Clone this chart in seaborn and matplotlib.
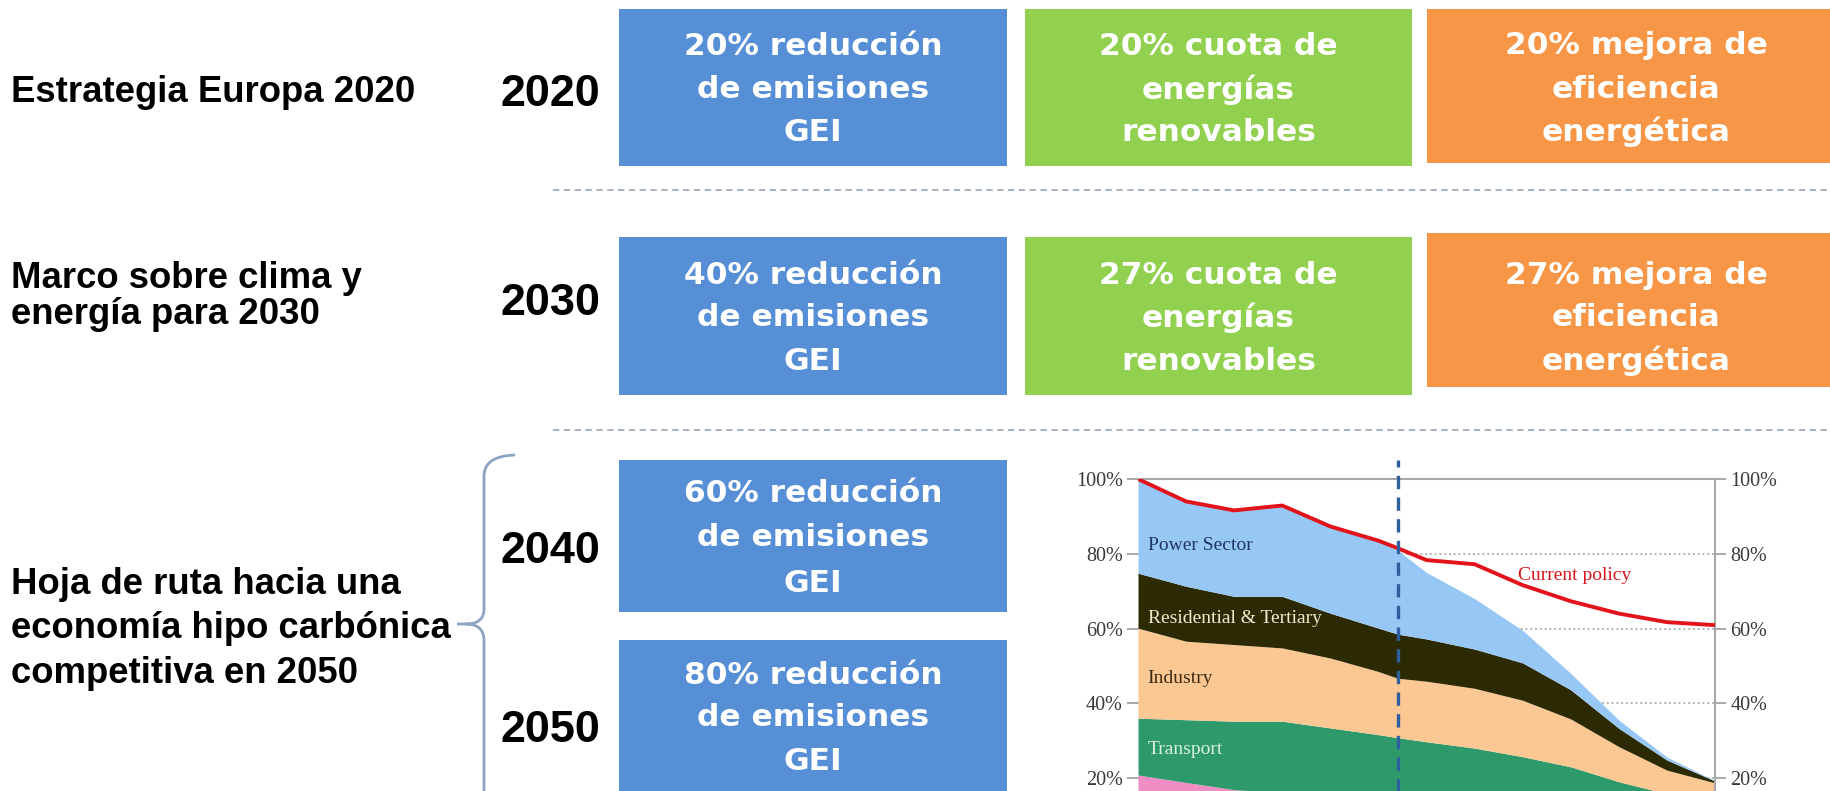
import numpy as np
import matplotlib
matplotlib.use("Agg")
import matplotlib.pyplot as plt
import seaborn as sns
from matplotlib.patches import Rectangle, PathPatch
from matplotlib.path import Path

# ---------------- data ----------------
years = [1990, 1995, 2000, 2005, 2010, 2015, 2017, 2020, 2025, 2030, 2035, 2040, 2045, 2050]
current_policy = [100, 94.0, 91.6, 92.9, 87.3, 83.5, 81.5, 78.3, 77.2, 71.6, 67.3, 64.0, 61.7, 60.9]
# upper edges of the stacked sector areas (% of 1990 emissions)
power_top = [100, 94.0, 91.6, 92.9, 87.3, 83.5, 81.0, 75.0, 68.0, 59.5, 48.0, 35.5, 25.6, 19.3]
residential_top = [74.8, 71.3, 68.6, 68.6, 64.1, 60.1, 58.5, 57.2, 54.5, 50.8, 43.6, 33.3, 24.8, 19.2]
industry_top = [60.1, 56.6, 55.7, 54.8, 52.1, 48.5, 46.7, 45.9, 44.0, 40.8, 35.8, 28.4, 22.1, 18.7]
transport_top = [36.0, 35.6, 35.2, 35.2, 33.4, 31.6, 30.8, 29.7, 28.0, 25.7, 23.0, 19.0, 15.8, 13.0]
non_co2_top = [20.8, 18.8, 16.9, 16.0, 15.0, 14.5, 14.2, 14.0, 13.0, 12.0, 11.0, 10.0, 9.0, 8.0]
projection_start = 2017
ytick_values = [20, 40, 60, 80, 100]
ytick_labels = ["20%", "40%", "60%", "80%", "100%"]
sector_labels = ["Power Sector", "Residential & Tertiary", "Industry", "Transport"]
policy_label = "Current policy"

row_titles = ["Estrategia Europa 2020", "Marco sobre clima y\nenergía para 2030",
              "Hoja de ruta hacia una\neconomía hipo carbónica\ncompetitiva en 2050"]
row_years = ["2020", "2030", "2040", "2050"]
ghg_targets = ["20% reducción\nde emisiones\nGEI", "40% reducción\nde emisiones\nGEI",
               "60% reducción\nde emisiones\nGEI", "80% reducción\nde emisiones\nGEI"]
renewable_targets = ["20% cuota de\nenergías\nrenovables", "27% cuota de\nenergías\nrenovables"]
efficiency_targets = ["20% mejora de\neficiencia\nenergética", "27% mejora de\neficiencia\nenergética"]

# ---------------- style ----------------
sns.set_theme(style="white")
plt.rcParams["font.family"] = ["Liberation Serif", "DejaVu Serif"]

W, H = 1830, 791
fig = plt.figure(figsize=(W / 100, H / 100), dpi=100)
fig.patch.set_facecolor("white")

BLUE, GREEN, ORANGE = "#578fd6", "#92d050", "#f79646"
SANS_B = dict(family=["Liberation Sans", "DejaVu Sans"], weight="bold")
BOX_F = dict(family=["DejaVu Sans"], weight="bold")

# background layout axes in pixel coordinates
bg = fig.add_axes([0, 0, 1, 1])
bg.set_xlim(0, W)
bg.set_ylim(H, 0)
bg.axis("off")

def box(x0, x1, y0, y1, color, text, tx=None, ty=None, gap=43):
    bg.add_patch(Rectangle((x0, y0), x1 - x0, y1 - y0, facecolor=color, edgecolor="none"))
    tx = (x0 + x1) / 2 if tx is None else tx
    ty = (y0 + y1) / 2 if ty is None else ty
    lines = text.split("\n")
    for i, ln in enumerate(lines):
        bg.text(tx, ty + (i - (len(lines) - 1) / 2) * gap + 2, ln, color="white",
                ha="center", va="center", fontsize=22.5, **BOX_F)

# rows of target boxes
box(619, 1007, 9, 166, BLUE, ghg_targets[0])
box(1025, 1412, 9, 166, GREEN, renewable_targets[0])
box(1427, 1830, 9, 163, ORANGE, efficiency_targets[0], tx=1636, ty=87)
box(619, 1007, 237, 395, BLUE, ghg_targets[1])
box(1025, 1412, 237, 395, GREEN, renewable_targets[1])
box(1427, 1830, 233, 387, ORANGE, efficiency_targets[1], tx=1636, ty=316)
box(619, 1007, 460, 612, BLUE, ghg_targets[2], ty=536, gap=45)
box(619, 1007, 640, 800, BLUE, ghg_targets[3], ty=716, gap=43)

# dashed separators
for yy in (190, 430):
    bg.plot([553, W], [yy, yy], color="#9fabbd", lw=1.3, ls=(0, (3.5, 2.5)))

# row titles
bg.text(11, 102, row_titles[0], fontsize=26.3, color="black", ha="left", va="baseline", **SANS_B)
for i, ln in enumerate(row_titles[1].split("\n")):
    bg.text(11, 288 + i * 36, ln, fontsize=26.3, color="black", ha="left", va="baseline", **SANS_B)
for i, ln in enumerate(row_titles[2].split("\n")):
    bg.text(11, 594 + i * 44.5, ln, fontsize=26.3, color="black", ha="left", va="baseline", **SANS_B)

# year labels
for yl, base in zip(row_years, (106, 315, 563, 742)):
    bg.text(550, base, yl, fontsize=32.4, color="black", ha="center", va="baseline", **SANS_B)

# curly bracket
verts = [(515, 455), (484, 456), (484, 476), (484, 609), (484, 624), (466, 624), (457, 624),
         (466, 624), (484, 624), (484, 641), (484, 800)]
codes = [Path.MOVETO, Path.CURVE3, Path.CURVE3, Path.LINETO, Path.CURVE3, Path.CURVE3, Path.LINETO,
         Path.MOVETO, Path.CURVE3, Path.CURVE3, Path.LINETO]
bg.add_patch(PathPatch(Path(verts, codes), facecolor="none", edgecolor="#8ca3c4", lw=2))

# ---------------- emissions chart ----------------
x_left, x_right = 1138, 1715
y100, y0 = 479, 479 + 5 * 74.75
ax = fig.add_axes([x_left / W, (H - y0) / H, (x_right - x_left) / W, (y0 - y100) / H])
ax.set_facecolor("none")

tops = np.array([non_co2_top, transport_top, industry_top, residential_top, power_top])
layers = np.vstack([tops[0], np.diff(tops, axis=0)])
colors = ["#f08cc4", "#2e9a6c", "#fbc792", "#2c2a02", "#97c8f5"]
ax.stackplot(years, layers, colors=colors, linewidth=0, zorder=2)

sns.lineplot(x=years, y=current_policy, ax=ax, color="#e3131b", lw=2.8, zorder=5)

ax.plot([projection_start, projection_start], [0, 105], color="#2f5f9e", lw=2.4,
        ls=(0, (4, 2.5)), clip_on=False, zorder=6)

ax.set_xlim(years[0], years[-1])
ax.set_ylim(0, 100)
ax.set_xticks([])
ax.set_yticks(ytick_values)
ax.set_yticklabels(ytick_labels)
ax.yaxis.grid(True, linestyle=":", color="#a8a8a8", lw=1.3)
ax.set_axisbelow(True)
ax.tick_params(axis="y", left=True, right=True, labelleft=True, labelright=True,
               length=8, width=1.2, color="#9a9a9a", labelsize=14.5, labelcolor="#3a3a3a", pad=3)
for s in ("left", "bottom"):
    ax.spines[s].set_visible(False)
for s in ("top", "right"):
    ax.spines[s].set_color("#a9a9a9")
    ax.spines[s].set_linewidth(1.5)
ax.set_xlabel("")
ax.set_ylabel("")

label_style = [("#1f3566", 82.3), ("#f3e8cf", 62.8), ("#3b2a12", 46.7), ("#d9f0dd", 27.7)]
for txt, (c, yv) in zip(sector_labels, label_style):
    ax.text(1991.0, yv, txt, color=c, fontsize=14, ha="left", va="center", zorder=7)
ax.text(2029.5, 74.3, policy_label, color="#d9141c", fontsize=14, ha="left", va="center", zorder=7)

fig.savefig("out.png", dpi=100, facecolor="white")
